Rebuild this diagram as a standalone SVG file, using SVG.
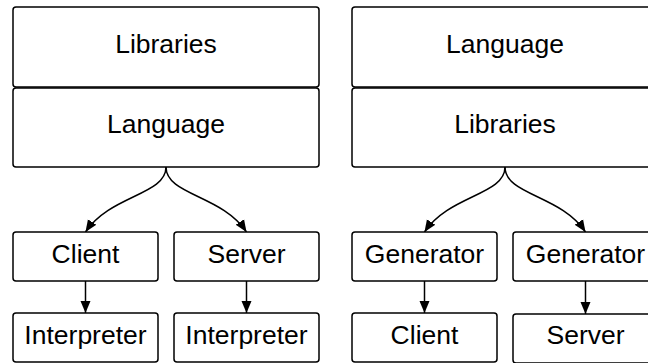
<svg xmlns="http://www.w3.org/2000/svg" width="648" height="363" viewBox="0 0 648 363">
<style>
.box{fill:#fff;stroke:#000;stroke-width:1.5}
.lbl{font-family:"Liberation Sans",Arial,sans-serif;font-size:26.5px;fill:#000;text-anchor:middle}
.edge{fill:none;stroke:#000;stroke-width:1.5}
</style>
<defs>
<marker id="arr" markerUnits="userSpaceOnUse" markerWidth="12" markerHeight="12" viewBox="0 0 12 10" refX="12" refY="5" orient="auto">
<path d="M0,0 L12,5 L0,10 Z" fill="#000"/>
</marker>
</defs>
<rect width="648" height="363" fill="#fff"/>
<g id="connectors">
<path class="edge" marker-end="url(#arr)" d="M166,167 C166,195 110,195 85.5,232"/>
<path class="edge" marker-end="url(#arr)" d="M166,167 C166,195 222,195 246.5,232"/>
<path class="edge" marker-end="url(#arr)" d="M85.5,281 L85.5,313"/>
<path class="edge" marker-end="url(#arr)" d="M246.5,281 L246.5,313"/>
<path class="edge" marker-end="url(#arr)" d="M505,167 C505,195 449,195 424.5,232"/>
<path class="edge" marker-end="url(#arr)" d="M505,167 C505,195 561,195 585.5,232"/>
<path class="edge" marker-end="url(#arr)" d="M424.5,281 L424.5,313"/>
<path class="edge" marker-end="url(#arr)" d="M585.5,281 L585.5,314"/>
</g>
<g id="left-libraries"><rect class="box" x="13" y="7" width="306" height="80" rx="3"/><text class="lbl" x="166" y="53">Libraries</text></g>
<g id="left-language"><rect class="box" x="13" y="88" width="306" height="79" rx="3"/><text class="lbl" x="166" y="133">Language</text></g>
<g id="left-client"><rect class="box" x="13" y="232" width="145" height="49" rx="3"/><text class="lbl" x="85.5" y="263">Client</text></g>
<g id="left-server"><rect class="box" x="174" y="232" width="145" height="49" rx="3"/><text class="lbl" x="246.5" y="263">Server</text></g>
<g id="left-client-interpreter"><rect class="box" x="13" y="313" width="145" height="49" rx="3"/><text class="lbl" x="85.5" y="344">Interpreter</text></g>
<g id="left-server-interpreter"><rect class="box" x="174" y="313" width="145" height="49" rx="3"/><text class="lbl" x="246.5" y="344">Interpreter</text></g>
<g id="right-language"><rect class="box" x="352" y="7" width="306" height="80" rx="3"/><text class="lbl" x="505" y="53">Language</text></g>
<g id="right-libraries"><rect class="box" x="352" y="88" width="306" height="79" rx="3"/><text class="lbl" x="505" y="133">Libraries</text></g>
<g id="right-client-generator"><rect class="box" x="352" y="232" width="145" height="49" rx="3"/><text class="lbl" x="424.5" y="263">Generator</text></g>
<g id="right-server-generator"><rect class="box" x="513" y="232" width="145" height="49" rx="3"/><text class="lbl" x="585.5" y="263">Generator</text></g>
<g id="right-client"><rect class="box" x="352" y="313" width="145" height="49" rx="3"/><text class="lbl" x="424.5" y="344">Client</text></g>
<g id="right-server"><rect class="box" x="513" y="314" width="145" height="49" rx="3"/><text class="lbl" x="585.5" y="344">Server</text></g>
</svg>
